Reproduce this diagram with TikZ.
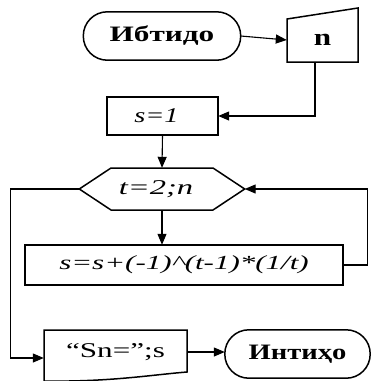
\documentclass[tikz,border=0pt]{standalone}
\usepackage{fontspec}
\setmainfont{Liberation Serif}
\usetikzlibrary{arrows.meta}
\tikzset{
  shp/.style={draw=none, inner sep=0pt},
  outl/.style={line width=1.5pt, line join=miter},
  arr/.style={line width=1.1pt, -{Triangle[length=11pt,width=9pt]}},
}
\newcommand{\wide}[2]{\scalebox{#1}[1]{#2}}
\begin{document}
\begin{tikzpicture}[x=1pt,y=-1pt]
\useasboundingbox (0,0) rectangle (379,381);
\clip (0,0) rectangle (379,381);
% nodes
\node[shp, minimum width=157pt, minimum height=48pt] (start) at (162,36) {\wide{1.42}{\fontsize{22}{24}\selectfont\bfseries Ибтидо}};
\node[shp, minimum width=71pt, minimum height=43pt] (inp) at (322.5,40) {\wide{1.3}{\fontsize{24}{26}\selectfont\bfseries n}};
\node[shp, minimum width=111pt, minimum height=38pt] (s1) at (162.5,116) {\hspace*{-12pt}\wide{1.35}{\fontsize{21}{23}\selectfont\itshape s=1}};
\node[shp, minimum width=165pt, minimum height=42pt] (hex) at (162,189) {\hspace*{-12pt}\wide{1.55}{\fontsize{21}{23}\selectfont\itshape t=2;n}};
\node[shp, minimum width=318pt, minimum height=40pt] (proc) at (184,265) {\wide{1.55}{\fontsize{20}{22}\selectfont\itshape s=s+(-1)\textasciicircum(t-1)*(1/t)}};
\node[shp, minimum width=143pt, minimum height=48pt] (out) at (115.5,352) {\wide{1.48}{\fontsize{21}{23}\selectfont “Sn=”;s}};
\node[shp, minimum width=145pt, minimum height=48pt] (end) at (297.5,354) {\wide{1.3}{\fontsize{22}{24}\selectfont\bfseries Интиҳо}};
% shapes
\draw[outl, rounded corners=24pt] (start.south west) rectangle (start.north east);
\draw[outl] (287,19) -- (358,8) -- (358,62) -- (287,62) -- cycle;
\draw[outl] (s1.south west) rectangle (s1.north east);
\draw[outl] (hex.west) -- (111,168) -- (213,168) -- (hex.east) -- (213,210) -- (111,210) -- cycle;
\draw[outl] (proc.south west) rectangle (proc.north east);
\draw[outl] (44,383) -- (44,330) -- (187,330) -- (187,372) .. controls (150,375) and (110,382) .. (44,381);
\draw[outl, rounded corners=24pt] (end.south west) rectangle (end.north east);
% connectors
\draw[arr] (start.east) -- (inp.west);
\draw[arr] ([xshift=-7.5pt]inp.south) |- (s1.east);
\draw[arr] (s1.south) -- (hex.north);
\draw[arr] (hex.south) -- (hex.south |- proc.north);
\draw[arr] (proc.east) -- ++(24,0) |- (hex.east);
\draw[arr] (hex.west) -- ++(-69,0) |- ([yshift=-6pt]out.west);
\draw[arr] (out.east) -- (end.west |- out.east);
\end{tikzpicture}
\end{document}
